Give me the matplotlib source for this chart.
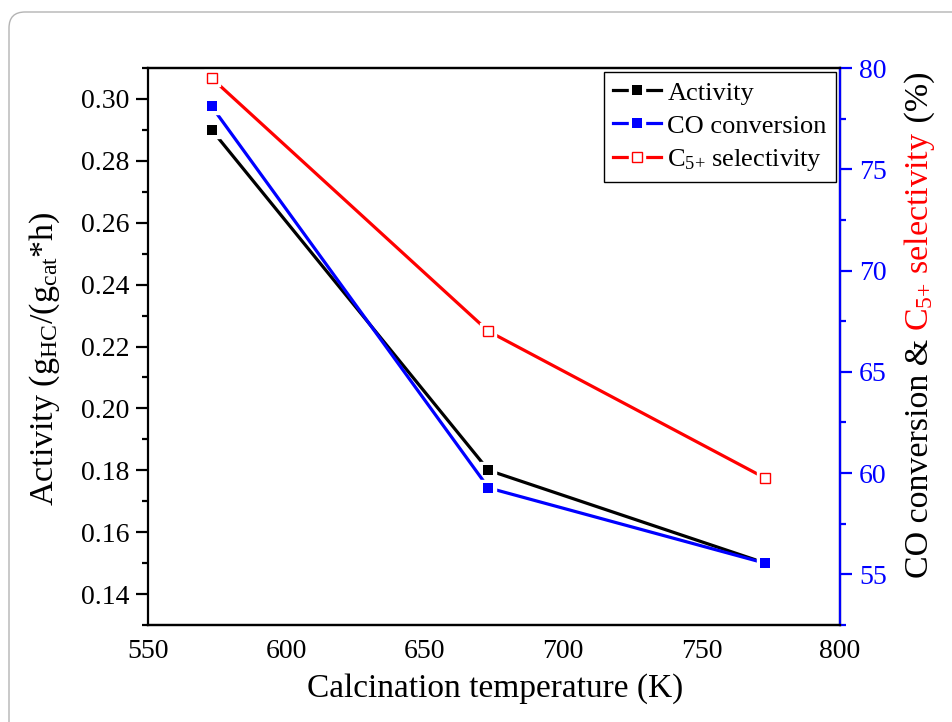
import numpy as np
import matplotlib
matplotlib.use("Agg")
import matplotlib.pyplot as plt
from matplotlib.patches import FancyBboxPatch
from matplotlib.legend_handler import HandlerTuple
from matplotlib.lines import Line2D
from matplotlib.ticker import MultipleLocator

plt.rcParams['font.family'] = ['Liberation Serif', 'DejaVu Serif']
plt.rcParams['mathtext.fontset'] = 'custom'
plt.rcParams['mathtext.rm'] = 'Liberation Serif'
plt.rcParams['mathtext.it'] = 'Liberation Serif:italic'

# data
temps = [573, 673, 773]
activity = [0.290, 0.180, 0.150]
co_conv = [78.1, 59.27, 55.55]
c5_sel = [79.5, 67.0, 59.75]

LW = 2.3
MS = 7.9
HALO = 11.5

fig = plt.figure(figsize=(9.52, 7.22), dpi=100)
ax = fig.add_axes([148 / 952, 1 - 625 / 722, (840 - 148) / 952, (625 - 68) / 722])
ax2 = ax.twinx()


def series(a, x, y, color, face, mew=0):
    a.plot(x, y, color=color, lw=LW, zorder=2)
    a.plot(x, y, ls='none', marker='s', ms=HALO, mfc='white', mec='white', zorder=3)
    a.plot(x, y, ls='none', marker='s', ms=MS, mfc=face, mec=color, mew=mew, zorder=4)


series(ax, temps, activity, 'black', 'black')
series(ax2, temps, co_conv, 'blue', 'blue')
series(ax2, temps, c5_sel, 'red', 'white', mew=1.0)

ax.set_xlim(550, 800)
ax.set_ylim(0.13, 0.31)
ax2.set_ylim(52.5, 80)

ax.xaxis.set_major_locator(MultipleLocator(50))
ax.xaxis.set_minor_locator(MultipleLocator(25))
ax.yaxis.set_major_locator(MultipleLocator(0.02))
ax.yaxis.set_minor_locator(MultipleLocator(0.01))
ax.yaxis.set_major_formatter(matplotlib.ticker.FormatStrFormatter('%.2f'))
ax2.yaxis.set_major_locator(MultipleLocator(5))
ax2.yaxis.set_minor_locator(MultipleLocator(2.5))

for s in ax.spines.values():
    s.set_linewidth(1.6)
for s in ax2.spines.values():
    s.set_linewidth(1.6)
ax2.spines['right'].set_color('blue')
ax2.spines['left'].set_visible(False)

ax.tick_params(axis='x', which='both', direction='inout', length=2, width=1.2,
               top=True, labelsize=20, pad=9)
ax.tick_params(axis='y', which='major', direction='out', length=8.6, width=1.6,
               labelsize=20, pad=5, right=False)
ax.tick_params(axis='y', which='minor', direction='out', length=4.3, width=1.6, right=False)
ax2.tick_params(axis='y', which='major', direction='out', length=8.6, width=1.6,
                colors='blue', labelsize=20, pad=5)
ax2.tick_params(axis='y', which='minor', direction='out', length=4.3, width=1.6,
                colors='blue')

# axis labels
fig.text(495 / 952, (722 - 697) / 722, 'Calcination temperature (K)',
         ha='center', va='baseline', fontsize=24)
fig.text(53 / 952, 0.503, r'Activity (g$_{\mathrm{HC}}$/(g$_{\mathrm{cat}}$*h)',
         rotation=90, rotation_mode='anchor', ha='center', va='baseline', fontsize=24.5)

# multi-coloured right label
pieces = [('CO conversion & ', 'black'), (r'C$_{\mathrm{5{+}}}$ selectivity', 'red'), (' (%)', 'black')]
fig.canvas.draw()
renderer = fig.canvas.get_renderer()
heights = []
texts = []
for s, c in pieces:
    t = fig.text(0, 0, s, color=c, rotation=90, rotation_mode='anchor',
                 ha='left', va='baseline', fontsize=24.5)
    heights.append(t.get_window_extent(renderer).height)
    texts.append(t)
total = sum(heights)
y0 = 397 - total / 2
for t, h in zip(texts, heights):
    t.set_position((928 / 952, y0 / 722))
    y0 += h

# legend
handles = []
for color, face, mew in [('black', 'black', 0), ('blue', 'blue', 0), ('red', 'white', 1.0)]:
    ln = Line2D([], [], color=color, lw=LW)
    halo = Line2D([], [], ls='none', marker='s', ms=HALO, mfc='white', mec='white')
    mk = Line2D([], [], ls='none', marker='s', ms=MS, mfc=face, mec=color, mew=mew)
    handles.append((ln, halo, mk))
leg = ax2.legend(handles, ['Activity', 'CO conversion', r'C$_{\mathrm{5{+}}}$ selectivity'],
                 handler_map={tuple: HandlerTuple(ndivide=1, pad=0)},
                 loc='upper right', fontsize=19, frameon=True, fancybox=False,
                 edgecolor='black', framealpha=1, borderaxespad=0.15,
                 handlelength=1.8, handletextpad=0.25, labelspacing=0.36,
                 borderpad=0.35)
leg.get_frame().set_linewidth(1.0)

# rounded panel border
border = FancyBboxPatch((9, -30), 960, 722 - 12 + 30,
                        boxstyle='round,pad=0,rounding_size=16',
                        transform=None, fc='none', ec='#b4b4b4', lw=1.0)
fig.add_artist(border)

fig.savefig('out.png', dpi=100)
